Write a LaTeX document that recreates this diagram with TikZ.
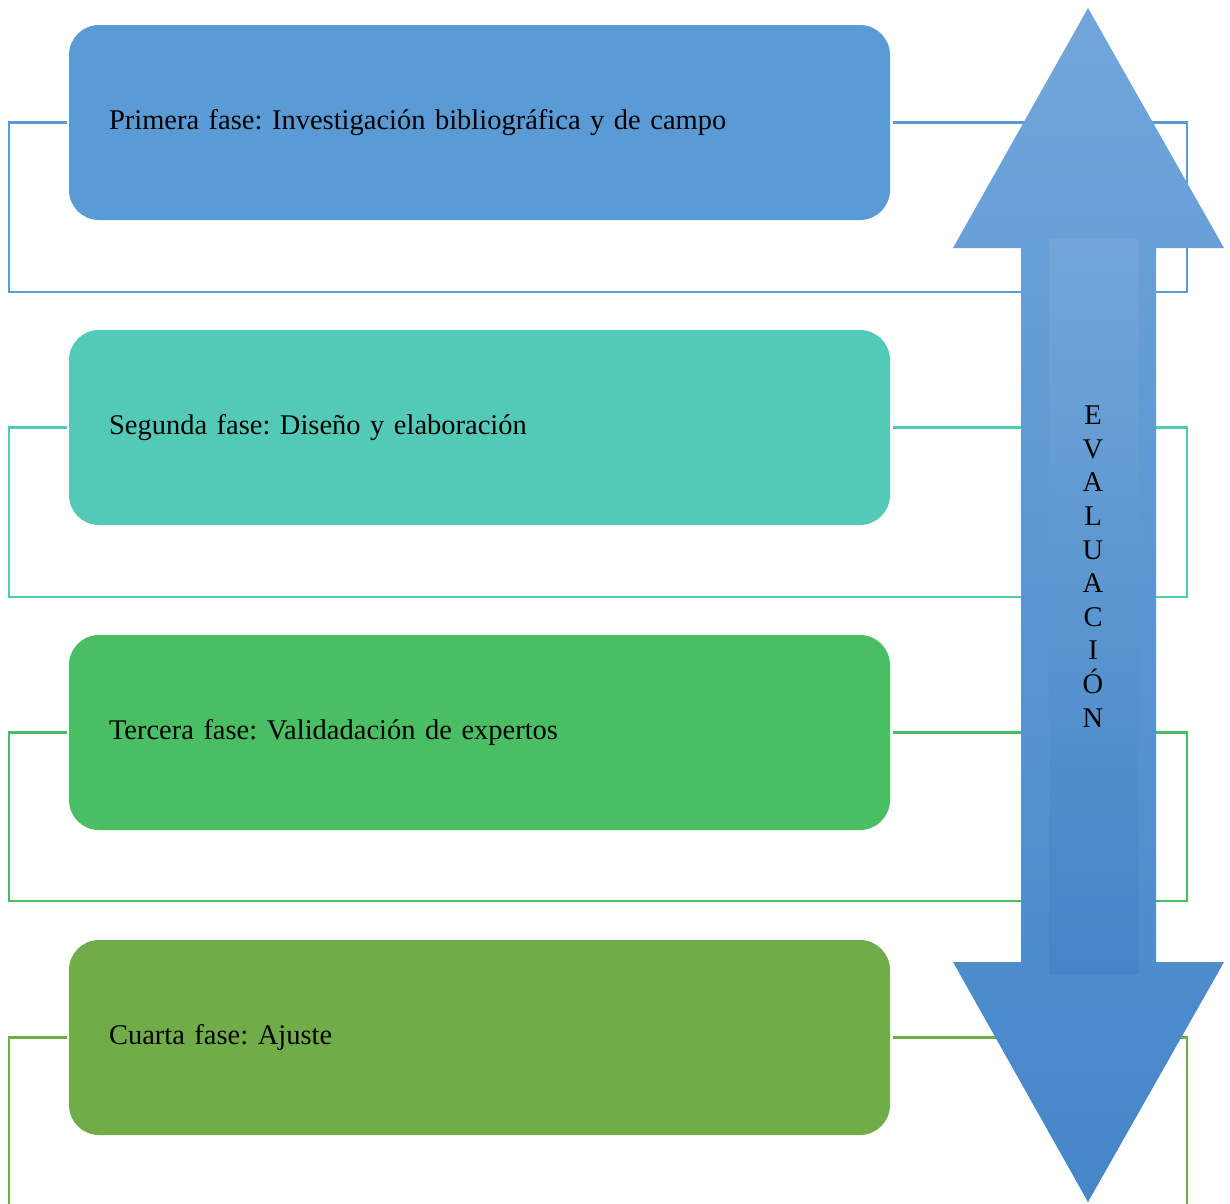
\documentclass[tikz,border=0pt]{standalone}
\usepackage{fontspec}
\setmainfont{Liberation Serif}
\frenchspacing
\definecolor{c1}{HTML}{5B9BD5}
\definecolor{c2}{HTML}{53C9B7}
\definecolor{c3}{HTML}{4ABE63}
\definecolor{c4}{HTML}{70AC47}
\definecolor{atop}{HTML}{70A6DB}
\definecolor{abot}{HTML}{4586C8}
\definecolor{itop}{HTML}{72A6D9}
\definecolor{ibot}{HTML}{4385C6}
\begin{document}
\begin{tikzpicture}[x=1pt,y=-1pt,
  phase/.style={rounded corners=30pt, minimum width=821pt, minimum height=195pt,
    text width=741pt, inner xsep=40pt, inner ysep=0pt, align=left,
    font=\fontsize{28.5}{33}\selectfont\frenchspacing, text=black},
  bracket/.style={line width=2.5pt}]
\useasboundingbox (0,0) rectangle (1230,1203);
% phases
\node[phase, fill=c1] (p1) at (479.5,122.5) {Primera fase: Investigación bibliográfica y de campo};
\node[phase, fill=c2] (p2) at (479.5,427.5) {Segunda fase: Diseño y elaboración};
\node[phase, fill=c3] (p3) at (479.5,732.5) {Tercera fase: Validadación de expertos};
\node[phase, fill=c4] (p4) at (479.5,1037.5) {Cuarta fase: Ajuste};
% brackets
\draw[bracket, c1] ([xshift=-2pt]p1.west) -- (9,122.5) -- (9,292) -- (1187,292) -- (1187,122.5) -- ([xshift=3pt]p1.east);
\draw[bracket, c2] ([xshift=-2pt]p2.west) -- (9,427.5) -- (9,597) -- (1187,597) -- (1187,427.5) -- ([xshift=3pt]p2.east);
\draw[bracket, c3] ([xshift=-2pt]p3.west) -- (9,732.5) -- (9,901) -- (1187,901) -- (1187,732.5) -- ([xshift=3pt]p3.east);
\draw[bracket, c4] ([xshift=-2pt]p4.west) -- (9,1037.5) -- (9,1210) (1187,1210) -- (1187,1037.5) -- ([xshift=3pt]p4.east);
% double arrow
\shade[top color=atop, bottom color=abot]
  (1088,8) -- (1224,248) -- (1156,248) -- (1156,962) -- (1224,962) -- (1088,1202)
  -- (953,962) -- (1021,962) -- (1021,248) -- (953,248) -- cycle;
\shade[top color=itop, bottom color=ibot] (1049,239) rectangle (1139,973);
\node[font=\fontsize{28.5}{33.6}\selectfont, align=center, inner sep=0pt] (ev) at (1093,566.5)
  {E\\V\\A\\L\\U\\A\\C\\I\\Ó\\N};
\end{tikzpicture}
\end{document}
